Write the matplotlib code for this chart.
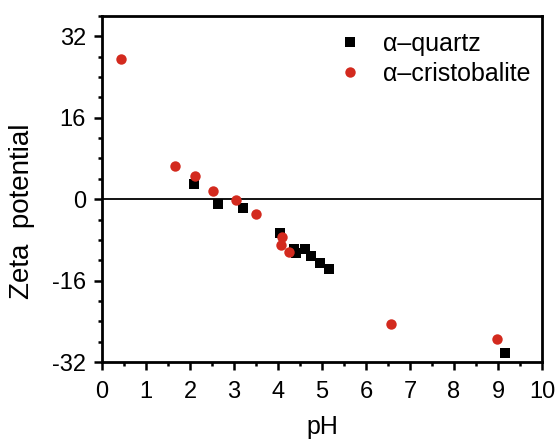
import matplotlib
matplotlib.use("Agg")
import matplotlib.pyplot as plt
from matplotlib.ticker import MultipleLocator

plt.rcParams['font.family'] = ['Liberation Sans', 'DejaVu Sans']
plt.rcParams['axes.unicode_minus'] = False

quartz_ph = [2.10, 2.64, 3.21, 4.05, 4.36, 4.40, 4.61, 4.74, 4.95, 5.16, 9.16]
quartz_zeta = [3.0, -0.85, -1.7, -6.6, -9.8, -10.5, -9.7, -11.1, -12.6, -13.7, -30.3]

cristo_ph = [0.44, 1.67, 2.11, 2.53, 3.05, 3.50, 4.10, 4.07, 4.25, 6.56, 8.98]
cristo_zeta = [27.5, 6.6, 4.6, 1.6, -0.1, -2.9, -7.4, -9.0, -10.4, -24.5, -27.5]

xticks = [0, 1, 2, 3, 4, 5, 6, 7, 8, 9, 10]
yticks = [-32, -16, 0, 16, 32]

W, H = 558, 440
fig = plt.figure(figsize=(W / 100, H / 100), dpi=100)
ax = fig.add_axes([102 / W, 1 - 362 / H, 440 / W, 346 / H])

ax.axhline(0, color='black', lw=1.3, zorder=1)
ax.plot(quartz_ph, quartz_zeta, 's', color='black', ms=6.5, mew=0, label='α–quartz', zorder=3)
ax.plot(cristo_ph, cristo_zeta, 'o', color='#d32a1e', ms=7.5, mew=0, label='α–cristobalite', zorder=4)

ax.set_xlim(0, 10)
ax.set_ylim(-32, 36)
ax.set_xticks(xticks)
ax.set_yticks(yticks)
ax.xaxis.set_minor_locator(MultipleLocator(0.5))
ax.yaxis.set_minor_locator(MultipleLocator(4))
ax.tick_params(which='major', direction='out', length=5.5, width=1.8, labelsize=17, pad=6)
ax.tick_params(axis='x', which='major', pad=8)
ax.tick_params(which='minor', direction='out', length=3.2, width=1.8)
ax.tick_params(top=False, right=False)
for s in ax.spines.values():
    s.set_linewidth(2)

ax.set_xlabel('pH', fontsize=18, labelpad=9)
fig.text(22 / W, 1 - 211 / H, 'Zeta  potential', rotation=90, fontsize=20,
         ha='center', va='center')

leg = ax.legend(loc='upper left', bbox_to_anchor=(340 / W, 1 - 32 / H),
                bbox_transform=fig.transFigure, frameon=False, fontsize=18,
                handletextpad=0.9, borderaxespad=0, borderpad=0,
                labelspacing=0.25, handlelength=0.8)

fig.savefig('out.png', dpi=100)
